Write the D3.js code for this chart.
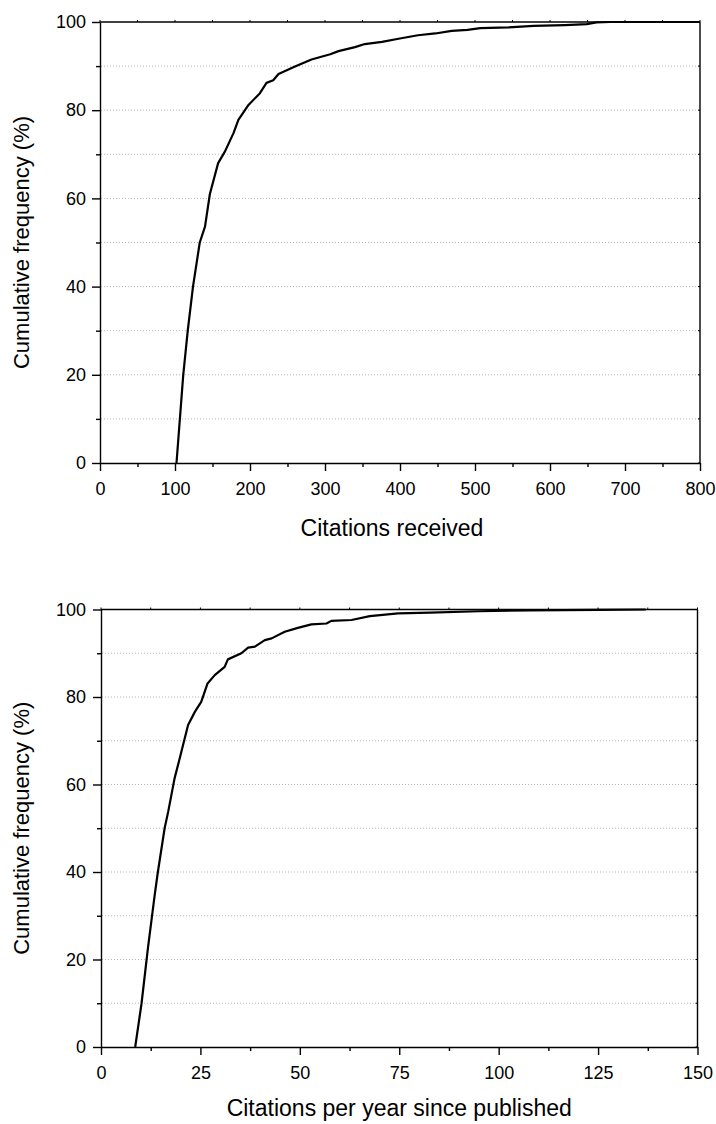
<!DOCTYPE html>
<html><head><meta charset="utf-8">
<script src="https://cdn.jsdelivr.net/npm/d3@7"></script>
<style>
body{margin:0;background:#fff}
svg{display:block}
text{font-family:Arial,"Liberation Sans",Helvetica,sans-serif;fill:#000}
</style>
</head><body>
<svg id="c" width="716" height="1124"></svg>
<script>
// ---- Data ----
const citationsReceived = [102,106.5,111,117,124,133,140,146.5,157.5,166.5,178,184.5,198,213,222,231,238,260,282,307,318,340,353,376,398,424,447,469,490,507,545,578,620,649,662,680,800];
const cumFreqReceived   = [0,10,20,30,40,50,53.6,61,68,70.6,74.8,77.8,81.2,83.8,86.2,86.8,88.2,89.9,91.5,92.7,93.4,94.3,95,95.5,96.2,97,97.4,98,98.2,98.6,98.8,99.1,99.3,99.5,99.9,100,100];

const citationsPerYear = [8.6,10.2,11.8,13.5,14.3,16,16.9,18.5,19.8,21.9,23.6,25.2,26.8,28.6,31.1,31.9,35.3,37,38.7,41.2,42.9,46.2,49.5,52.9,56.7,57.9,63,67.6,74.7,82.7,95,107.8,125,137];
const cumFreqPerYear   = [0,10,22.6,34.7,40,50,53.8,61.4,66,73.6,76.6,78.9,83.1,85,86.9,88.6,90,91.3,91.5,93,93.4,94.9,95.8,96.6,96.8,97.4,97.6,98.5,99.1,99.3,99.6,99.8,99.9,100];

const xTicksTop = [0,100,200,300,400,500,600,700,800];
const xMinorTop = [50,150,250,350,450,550,650,750];
const xTicksBottom = [0,25,50,75,100,125,150];
const xMinorBottom = [12.5,37.5,62.5,87.5,112.5,137.5];
const yTicks = [0,20,40,60,80,100];
const yMinor = [10,30,50,70,90];
const yGrid = [10,20,30,40,50,60,70,80,90];

const yTitle = "Cumulative frequency (%)";
const xTitleTop = "Citations received";
const xTitleBottom = "Citations per year since published";

const svg = d3.select("#c");

function panel(o){
  const g = svg.append("g");
  const x = d3.scaleLinear().domain(o.xDomain).range([o.x0, o.x1]);
  const y = d3.scaleLinear().domain([0,100]).range([o.y1, o.y0]);

  // grid
  g.selectAll("line.grid").data(yGrid).enter().append("line")
    .attr("x1", o.x0+1).attr("x2", o.x1-1)
    .attr("y1", d=>y(d)).attr("y2", d=>y(d))
    .attr("stroke", "#b4b4b4").attr("stroke-width", 1)
    .attr("stroke-dasharray", "1,2");

  // curve
  const line = d3.line().x(d=>x(d[0])).y(d=>y(d[1]));
  const pts = o.xs.map((v,i)=>[v, o.ys[i]]);
  g.append("path").datum(pts).attr("d", line)
    .attr("fill","none").attr("stroke","#000").attr("stroke-width",2.2)
    .attr("stroke-linejoin","round");

  // frame top & right
  g.append("line").attr("x1",o.x0).attr("x2",o.x1).attr("y1",o.y0).attr("y2",o.y0)
    .attr("stroke","#000").attr("stroke-width",1.4);
  g.append("line").attr("x1",o.x1).attr("x2",o.x1).attr("y1",o.y0).attr("y2",o.y1)
    .attr("stroke","#000").attr("stroke-width",1.4);
  // tiny mirror ticks
  g.selectAll("line.tt").data(o.xTicks.concat(o.xMinor)).enter().append("line")
    .attr("x1",d=>x(d)).attr("x2",d=>x(d)).attr("y1",o.y0).attr("y2",o.y0-2)
    .attr("stroke","#000").attr("stroke-width",1);
  g.selectAll("line.rt").data(yTicks.concat(yMinor)).enter().append("line")
    .attr("x1",o.x1).attr("x2",o.x1-2).attr("y1",d=>y(d)).attr("y2",d=>y(d))
    .attr("stroke","#000").attr("stroke-width",1);

  // bottom axis
  g.append("g").attr("transform",`translate(0,${o.y1})`)
    .call(d3.axisBottom(x).tickValues(o.xTicks).tickSize(8).tickPadding(11).tickSizeOuter(0));
  g.append("g").attr("transform",`translate(0,${o.y1})`)
    .call(d3.axisBottom(x).tickValues(o.xMinor).tickSize(4).tickFormat("").tickSizeOuter(0))
    .select(".domain").remove();
  // left axis
  g.append("g").attr("transform",`translate(${o.x0},0)`)
    .call(d3.axisLeft(y).tickValues(yTicks).tickSize(8).tickPadding(o.yPad).tickSizeOuter(0));
  g.append("g").attr("transform",`translate(${o.x0},0)`)
    .call(d3.axisLeft(y).tickValues(yMinor).tickSize(4).tickFormat("").tickSizeOuter(0))
    .select(".domain").remove();

  g.selectAll(".domain").attr("stroke","#000").attr("stroke-width",1.4);
  g.selectAll(".tick line").attr("stroke","#000").attr("stroke-width",1.4);
  g.selectAll(".tick text").attr("font-size","18px")
    .attr("font-family","Arial, 'Liberation Sans', sans-serif").attr("fill","#000");

  // titles
  g.append("text").attr("x",(o.x0+o.x1)/2 + o.tdx).attr("y",o.y1+o.tdy)
    .attr("text-anchor","middle").attr("font-size","23px").text(o.xTitle);
  g.append("text").attr("transform",`translate(29,${(o.y0+o.y1)/2}) rotate(-90)`)
    .attr("text-anchor","middle").attr("font-size","22px").text(yTitle);
}

panel({x0:100,x1:700,y0:22,y1:463,xDomain:[0,800],xTicks:xTicksTop,xMinor:xMinorTop,
  xs:citationsReceived,ys:cumFreqReceived,xTitle:xTitleTop,yPad:6,tdx:-8,tdy:73});
panel({x0:101,x1:697.5,y0:609.5,y1:1047,xDomain:[0,150],xTicks:xTicksBottom,xMinor:xMinorBottom,
  xs:citationsPerYear,ys:cumFreqPerYear,xTitle:xTitleBottom,yPad:7,tdx:0,tdy:69});
</script>
</body></html>
